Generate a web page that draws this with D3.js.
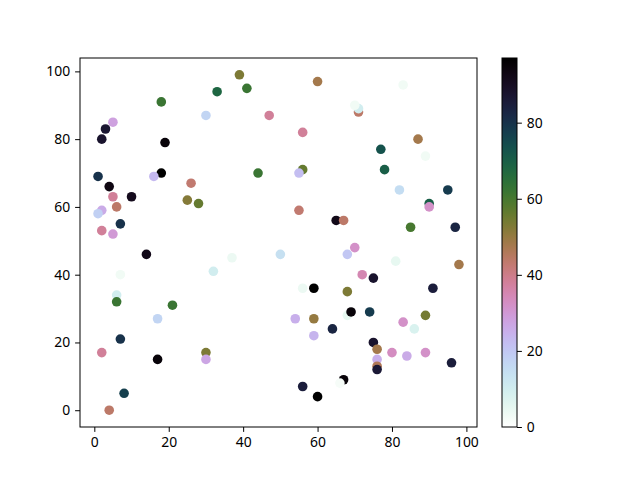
<!DOCTYPE html>
<html>
<head>
<meta charset="utf-8">
<script src="https://cdn.jsdelivr.net/npm/d3@7"></script>
<style>
  body { margin: 0; background: #fff; }
  svg text { font-family: "Noto Sans", sans-serif; font-size: 13.9px; fill: #000; }
</style>
</head>
<body>
<svg id="chart" width="640" height="480"></svg>
<script>
// point data: x, y and colour value
var xs = [39,33,41,18,43,30,47,5,3,2,19,1,18,16,44,4,26,5,10,25,28,6,2,1,7,2,5,
          60,83,71,71,70,56,87,77,89,56,55,78,82,95,90,90,55,65,67,85,97,
          14,37,50,32,7,6,6,21,17,7,2,30,30,17,8,4,
          68,70,81,98,72,75,56,59,91,68,68,69,74,54,59,83,89,86,64,59,75,76,80,84,89,76,76,76,96,67,66,56,60];
var ys = [99,94,95,91,90,87,87,85,83,80,79,69,70,69,70,66,67,63,63,62,61,60,59,58,55,53,52,
          97,96,88,89,90,82,80,77,75,71,70,71,65,65,61,60,59,56,56,54,54,
          46,45,46,41,40,34,32,31,27,21,17,17,15,15,5,0,
          46,48,44,43,40,39,36,36,36,35,28,29,29,27,27,26,28,24,24,22,20,18,17,16,17,15,13,12,14,9,8,7,4];
var cs = [53,68,62,62,0,17,38,28,87,88,95,80,97,23,62,93,43,38,91,52,56,44,26,18,80,38,30,
          48,3,44,10,3,38,48,73,3,56,22,70,15,78,70,32,43,92,44,60,83,
          92,4,14,10,3,10,62,62,17,80,38,53,27,95,77,44,
          20,32,5,48,35,88,4,97,85,53,5,95,78,25,50,32,54,8,83,24,88,48,33,26,32,25,46,86,85,95,2,85,97];

var cbTicks = [0, 20, 40, 60, 80];
var axisTicks = [0, 20, 40, 60, 80, 100];

var svg = d3.select("#chart");
var plotL = 80, plotR = 477, plotT = 58, plotB = 427;
var cbL = 502, cbR = 517;

// matplotlib style 5% margins around the data
function padded(vals) {
  var e = d3.extent(vals), m = (e[1] - e[0]) * 0.05;
  return [e[0] - m, e[1] + m];
}

var x = d3.scaleLinear().domain(padded(xs)).range([plotL, plotR]);
var y = d3.scaleLinear().domain(padded(ys)).range([plotB, plotT]);
var cExt = d3.extent(cs);

// cubehelix as matplotlib builds it (start .5, rotation -1.5, hue 1), reversed
function cubehelixR(t) {
  var v = 1 - t;
  var a = v * (1 - v) / 2;
  var phi = 2 * Math.PI * (0.5 / 3 - 1.5 * v);
  var cp = Math.cos(phi), sp = Math.sin(phi);
  function ch(p0, p1) { return Math.max(0, Math.min(1, v + a * (p0 * cp + p1 * sp))); }
  return d3.rgb(ch(-0.14861, 1.78277) * 255, ch(-0.29227, -0.90649) * 255, ch(1.97294, 0) * 255);
}
var color = d3.scaleSequential(cubehelixR).domain(cExt);

// points
var pts = xs.map(function(d, i) { return {x: d, y: ys[i], c: cs[i]}; });
svg.append("g").selectAll("circle")
  .data(pts)
  .enter()
  .append("circle")
  .attr("cx", function(d) { return x(d.x); })
  .attr("cy", function(d) { return y(d.y); })
  .attr("r", 4.8)
  .attr("fill", function(d) { return color(d.c); });

// axes
svg.append("g")
  .attr("transform", "translate(0," + plotB + ")")
  .call(d3.axisBottom(x).tickValues(axisTicks).tickSize(4.9).tickPadding(4.9));
svg.append("g")
  .attr("transform", "translate(" + plotL + ",0)")
  .call(d3.axisLeft(y).tickValues(axisTicks).tickSize(4.9).tickPadding(4.9));
svg.selectAll(".domain").remove();
svg.append("rect")
  .attr("x", plotL).attr("y", plotT)
  .attr("width", plotR - plotL).attr("height", plotB - plotT)
  .attr("fill", "none").attr("stroke", "#000").attr("stroke-width", 1);

// colorbar
var cy = d3.scaleLinear().domain(cExt).range([plotB, plotT]);
var grad = svg.append("defs").append("linearGradient")
  .attr("id", "cbar").attr("x1", 0).attr("y1", 1).attr("x2", 0).attr("y2", 0);
d3.range(0, 1.0001, 0.02).forEach(function(t) {
  grad.append("stop").attr("offset", t).attr("stop-color", cubehelixR(t));
});
svg.append("rect")
  .attr("x", cbL).attr("y", plotT)
  .attr("width", cbR - cbL).attr("height", plotB - plotT)
  .attr("fill", "url(#cbar)").attr("stroke", "#000").attr("stroke-width", 1);
svg.append("g")
  .attr("transform", "translate(" + cbR + ",0)")
  .call(d3.axisRight(cy).tickValues(cbTicks).tickSize(4.9).tickPadding(4.9))
  .select(".domain").remove();

svg.selectAll(".tick line").attr("stroke", "#000");
svg.selectAll(".tick text").attr("fill", "#000");
</script>
</body>
</html>
